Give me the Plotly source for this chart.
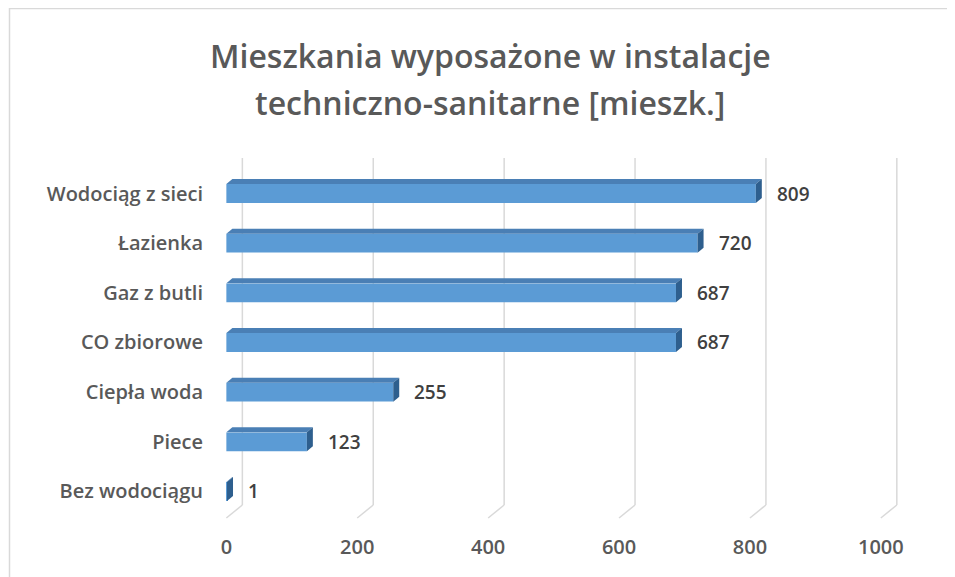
import plotly.graph_objects as go

categories = ["Wodociąg z sieci", "Łazienka", "Gaz z butli", "CO zbiorowe",
              "Ciepła woda", "Piece", "Bez wodociągu"]
values = [809, 720, 687, 687, 255, 123, 1]
x_ticks = [0, 200, 400, 600, 800, 1000]

title_lines = ["Mieszkania wyposażone w instalacje", "techniczno-sanitarne [mieszk.]"]

FRONT = "#5B9BD5"
GRID = "#D9D9D9"
TEXT = "#595959"
FONT = "Open Sans"

# page has an 8px body margin; figure coordinates are page coordinates minus 8
OFF = 8
W, H = 955 - OFF, 577 - OFF
top_px, bot_px = 158 - OFF, 518 - OFF
left_px, right_px = 210 - OFF, 907 - OFF
PH = bot_px - top_px
PW = right_px - left_px

fig = go.Figure()
fig.add_trace(go.Bar(
    y=categories, x=values, orientation="h",
    marker=dict(color=FRONT, line=dict(width=0)),
    width=0.38, hoverinfo="x+y", showlegend=False,
))

shapes = []
# back gridlines with 3D floor diagonals
depth_frac = 13 / PH
for t in x_ticks:
    shapes.append(dict(type="line", xref="x", yref="paper", xsizemode="pixel", xanchor=t,
                       x0=0, x1=16, y0=0, y1=depth_frac,
                       line=dict(color=GRID, width=1.5), layer="below"))
    shapes.append(dict(type="line", xref="x", yref="paper", xsizemode="pixel", xanchor=t,
                       x0=16, x1=16, y0=depth_frac, y1=1,
                       line=dict(color=GRID, width=1.5), layer="below"))

# 3D top and side faces of bars
dx = 6 / 0.655  # data units for ~6px depth
half = 9.5
up = 5
for c, v in zip(categories, values):
    shapes.append(dict(type="path", xref="x", yref="y", ysizemode="pixel", yanchor=c,
                       path=f"M 0,{half} L {v},{half} L {v+dx},{half+up} L {dx},{half+up} Z",
                       fillcolor="#4A7FB5", line=dict(width=0), layer="above"))
    shapes.append(dict(type="path", xref="x", yref="y", ysizemode="pixel", yanchor=c,
                       path=f"M {v},{half} L {v+dx},{half+up} L {v+dx},{-half+up} L {v},{-half} Z",
                       fillcolor="#2E5F8E", line=dict(width=0), layer="above"))

def px_x(p):
    return (p - OFF - left_px) / PW

def px_y(p):
    return (bot_px - (p - OFF)) / PH

# chart border (top and left)
shapes.append(dict(type="line", xref="paper", yref="paper",
                   x0=px_x(9), x1=px_x(960), y0=px_y(8.5), y1=px_y(8.5),
                   line=dict(color="#D9D9D9", width=1.5)))
shapes.append(dict(type="line", xref="paper", yref="paper",
                   x0=px_x(9.5), x1=px_x(9.5), y0=px_y(580), y1=px_y(8),
                   line=dict(color="#D9D9D9", width=1.5)))

annotations = []
for c, v in zip(categories, values):
    annotations.append(dict(x=v, y=c, xref="x", yref="y", text=str(v), showarrow=False,
                            xanchor="left", xshift=19, yshift=0,
                            font=dict(family=FONT, size=19, color="#404040", weight=600)))

title_y = [56, 102]
for line, yy in zip(title_lines, title_y):
    annotations.append(dict(x=px_x(490), y=px_y(yy), xref="paper", yref="paper", text=line,
                            showarrow=False, xanchor="center", yanchor="middle",
                            font=dict(family=FONT, size=32, color=TEXT, weight=600)))

fig.update_layout(
    template="none",
    width=W, height=H,
    margin=dict(l=left_px, r=W - right_px, t=top_px, b=H - bot_px, pad=0),
    paper_bgcolor="white", plot_bgcolor="white",
    xaxis=dict(range=[-25, 1040], tickvals=x_ticks, showgrid=False, zeroline=False,
               showline=False, ticks="", tickfont=dict(family=FONT, size=20, color=TEXT, weight=600),
               ticklabelstandoff=15, fixedrange=True, automargin=False),
    yaxis=dict(categoryorder="array", categoryarray=categories,
               range=[6.534, -0.715], showgrid=False, zeroline=False, showline=False,
               ticks="", tickfont=dict(family=FONT, size=20, color=TEXT, weight=600),
               ticklabelstandoff=6, fixedrange=True, automargin=False),
    shapes=shapes, annotations=annotations,
    bargap=0.6,
)

fig.write_html("out.html")
